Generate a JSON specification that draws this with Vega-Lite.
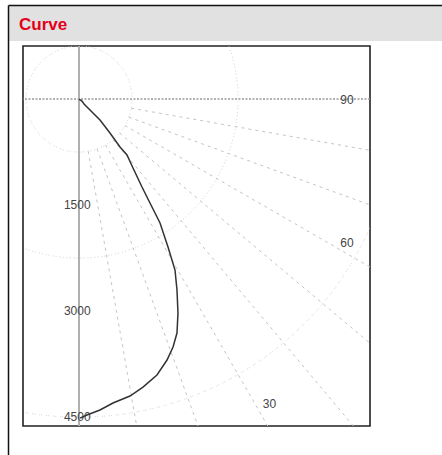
{
  "$schema": "https://vega.github.io/schema/vega-lite/v6.json",
  "width": 347,
  "height": 380,
  "autosize": {"type": "none"},
  "padding": {"left": 23, "top": 46, "right": 72, "bottom": 29},
  "background": "white",
  "config": {"view": {"stroke": "#222", "strokeWidth": 1.6}, "font": "Liberation Sans"},
  "data": {"values": [{}]},
  "datasets": {
    "curve": [
      {"i": 0, "x": 0, "d": 0},
      {"i": 1, "x": 42, "d": 28},
      {"i": 2, "x": 71, "d": 71},
      {"i": 3, "x": 113, "d": 113},
      {"i": 4, "x": 198, "d": 198},
      {"i": 5, "x": 297, "d": 297},
      {"i": 6, "x": 438, "d": 481},
      {"i": 7, "x": 580, "d": 679},
      {"i": 8, "x": 679, "d": 792},
      {"i": 9, "x": 764, "d": 976},
      {"i": 10, "x": 891, "d": 1245},
      {"i": 11, "x": 1004, "d": 1471},
      {"i": 12, "x": 1146, "d": 1754},
      {"i": 13, "x": 1259, "d": 2093},
      {"i": 14, "x": 1358, "d": 2419},
      {"i": 15, "x": 1386, "d": 2702},
      {"i": 16, "x": 1400, "d": 3027},
      {"i": 17, "x": 1386, "d": 3310},
      {"i": 18, "x": 1330, "d": 3508},
      {"i": 19, "x": 1245, "d": 3692},
      {"i": 20, "x": 1103, "d": 3904},
      {"i": 21, "x": 905, "d": 4074},
      {"i": 22, "x": 721, "d": 4201},
      {"i": 23, "x": 481, "d": 4300},
      {"i": 24, "x": 297, "d": 4399},
      {"i": 25, "x": 113, "d": 4470},
      {"i": 26, "x": 14, "d": 4513}
    ],
    "circles": [
      {"r": 750}, {"r": 1500}, {"r": 2250}, {"r": 3000},
      {"r": 3750}, {"r": 4500}, {"r": 5250}, {"r": 6000}
    ],
    "radials": [
      {"a": 10, "x": 130.2, "d": 738.6, "x2": 1215.6, "d2": 6893.7},
      {"a": 20, "x": 256.5, "d": 704.8, "x2": 2394.1, "d2": 6577.8},
      {"a": 30, "x": 375, "d": 649.5, "x2": 3500, "d2": 6062.2},
      {"a": 40, "x": 482.1, "d": 574.5, "x2": 4499.5, "d2": 5362.3},
      {"a": 50, "x": 574.5, "d": 482.1, "x2": 5362.3, "d2": 4499.5},
      {"a": 60, "x": 649.5, "d": 375, "x2": 6062.2, "d2": 3500},
      {"a": 70, "x": 704.8, "d": 256.5, "x2": 6577.8, "d2": 2394.1},
      {"a": 80, "x": 738.6, "d": 130.2, "x2": 6893.7, "d2": 1215.6}
    ],
    "rlabels": [
      {"t": "1500", "x": -25, "d": 1500},
      {"t": "3000", "x": -25, "d": 3000},
      {"t": "4500", "x": -25, "d": 4500}
    ],
    "alabels": [
      {"t": "90", "x": 3791, "d": 14},
      {"t": "60", "x": 3791, "d": 2037},
      {"t": "30", "x": 2695, "d": 4314}
    ]
  },
  "layer": [
    {
      "mark": {"type": "rect", "color": "#e1e1e1"},
      "encoding": {
        "x": {"datum": -997, "type": "quantitative", "scale": {"domain": [-792, 4116], "nice": false, "zero": false}, "axis": null},
        "x2": {"datum": 5300},
        "y": {"datum": -1323, "type": "quantitative", "scale": {"domain": [-750, 4625], "nice": false, "zero": false, "reverse": true}, "axis": null},
        "y2": {"datum": -820}
      }
    },
    {
      "mark": {"type": "rule", "color": "#111", "strokeWidth": 1.5},
      "encoding": {
        "x": {"datum": -997, "type": "quantitative"},
        "x2": {"datum": 5300},
        "y": {"datum": -1323, "type": "quantitative"}
      }
    },
    {
      "mark": {"type": "rule", "color": "#111", "strokeWidth": 1.5},
      "encoding": {
        "x": {"datum": -997, "type": "quantitative"},
        "y": {"datum": -1323, "type": "quantitative"},
        "y2": {"datum": 5100}
      }
    },
    {
      "mark": {"type": "text", "align": "left", "baseline": "middle", "fontSize": 17, "fontWeight": 900, "color": "#e2001a", "font": "Liberation Sans"},
      "encoding": {
        "x": {"datum": -849, "type": "quantitative"},
        "y": {"datum": -1054, "type": "quantitative"},
        "text": {"value": "Curve"}
      }
    },
    {
      "data": {"name": "circles"},
      "mark": {"type": "arc", "filled": false, "color": "#d0d0d0", "strokeWidth": 1, "strokeDash": [1, 6], "clip": true},
      "encoding": {
        "x": {"datum": 0, "type": "quantitative"},
        "y": {"datum": 0, "type": "quantitative"},
        "radius": {"field": "r", "type": "quantitative", "scale": {"type": "linear", "domain": [0, 4500], "range": [0, 318.14], "zero": true}}
      }
    },
    {
      "data": {"name": "radials"},
      "mark": {"type": "rule", "color": "#c4c4c4", "strokeWidth": 1, "strokeDash": [3, 4], "clip": true},
      "encoding": {
        "x": {"field": "x", "type": "quantitative"},
        "x2": {"field": "x2"},
        "y": {"field": "d", "type": "quantitative"},
        "y2": {"field": "d2"}
      }
    },
    {
      "mark": {"type": "rule", "color": "#999999", "strokeWidth": 1.5, "strokeDash": [2, 1.5]},
      "encoding": {"y": {"datum": 0, "type": "quantitative"}}
    },
    {
      "mark": {"type": "rule", "color": "#b0b0b0", "strokeWidth": 2},
      "encoding": {"x": {"datum": 0, "type": "quantitative"}}
    },
    {
      "data": {"name": "rlabels"},
      "mark": {"type": "text", "align": "center", "baseline": "middle", "fontSize": 12, "color": "#444"},
      "encoding": {
        "x": {"field": "x", "type": "quantitative"},
        "y": {"field": "d", "type": "quantitative"},
        "text": {"field": "t"}
      }
    },
    {
      "data": {"name": "alabels"},
      "mark": {"type": "text", "align": "center", "baseline": "middle", "fontSize": 12, "color": "#444"},
      "encoding": {
        "x": {"field": "x", "type": "quantitative"},
        "y": {"field": "d", "type": "quantitative"},
        "text": {"field": "t"}
      }
    },
    {
      "data": {"name": "curve"},
      "mark": {"type": "line", "color": "#333", "strokeWidth": 1.5, "clip": true},
      "encoding": {
        "x": {"field": "x", "type": "quantitative"},
        "y": {"field": "d", "type": "quantitative"},
        "order": {"field": "i"}
      }
    }
  ]
}
